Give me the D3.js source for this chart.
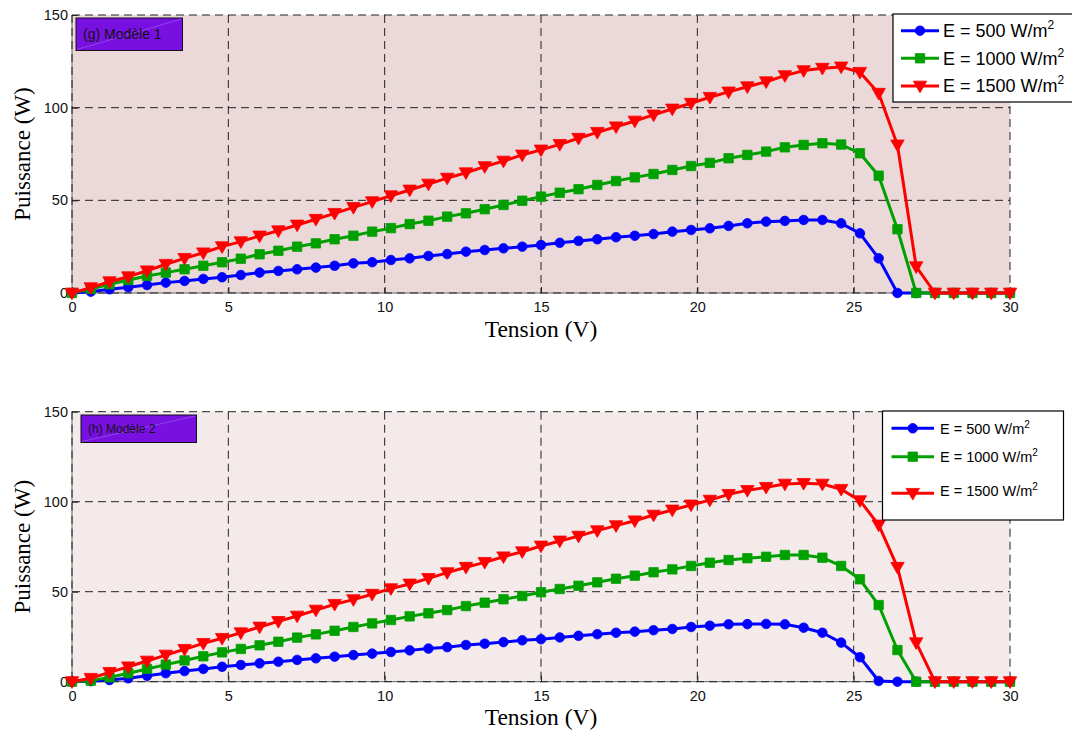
<!DOCTYPE html>
<html>
<head>
<meta charset="utf-8">
<script src="https://cdn.jsdelivr.net/npm/d3@7"></script>
<style>
  html, body { margin: 0; padding: 0; background: #ffffff; }
  svg { display: block; }
</style>
</head>
<body>
<svg id="chart" width="1072" height="733"></svg>
<script>
// Tension (V) sampling of the P-V curves
const tension = [0, 0.6, 1.2, 1.8, 2.4, 3.0, 3.6, 4.2, 4.8, 5.4, 6.0, 6.6, 7.2, 7.8, 8.4, 9.0, 9.6,
  10.2, 10.8, 11.4, 12.0, 12.6, 13.2, 13.8, 14.4, 15.0, 15.6, 16.2, 16.8, 17.4, 18.0, 18.6, 19.2,
  19.8, 20.4, 21.0, 21.6, 22.2, 22.8, 23.4, 24.0, 24.6, 25.2, 25.8, 26.4, 27.0, 27.6, 28.2, 28.8,
  29.4, 30.0];

// Modèle 1 — puissance (W)
const model1_500 = [0, 0.7, 2.0, 3.1, 4.3, 5.6, 6.5, 7.6, 8.5, 9.7, 11.0, 11.9, 12.8, 13.7, 14.7,
  16.0, 16.6, 17.8, 18.7, 20.0, 21.0, 22.3, 23.2, 24.1, 25.0, 25.9, 27.1, 28.1, 29.0, 30.1, 30.9,
  31.8, 33.1, 34.0, 34.9, 36.2, 37.6, 38.5, 38.9, 39.4, 39.4, 37.6, 32.2, 18.7, 0, 0, 0, 0, 0, 0, 0];
const model1_1000 = [0, 2.2, 4.7, 7.0, 9.2, 11.0, 12.8, 14.7, 16.6, 18.5, 20.9, 22.8, 25.0, 26.8,
  29.0, 30.9, 33.1, 35.0, 37.2, 39.0, 41.2, 43.0, 45.2, 47.5, 49.8, 52.0, 54.1, 56.0, 58.3, 60.4,
  62.4, 64.2, 66.4, 68.5, 70.2, 72.7, 74.5, 76.3, 78.6, 79.9, 80.8, 80.1, 75.4, 63.3, 34.4, 0, 0, 0,
  0, 0, 0];
const model1_1500 = [0, 2.9, 6.1, 8.8, 12.0, 15.5, 18.7, 21.7, 25.0, 27.7, 30.8, 33.6, 36.7, 39.8,
  43.0, 46.2, 49.3, 52.5, 55.6, 58.8, 62.0, 64.9, 68.2, 71.2, 74.5, 77.2, 80.2, 83.5, 86.7, 89.7,
  92.8, 96.1, 99.3, 102.4, 105.6, 108.5, 111.3, 114.0, 117.3, 120.0, 121.3, 122.0, 119.1, 107.8,
  79.9, 14.2, 0, 0, 0, 0, 0];

// Modèle 2 — puissance (W)
const model2_500 = [0, 0.3, 0.9, 1.9, 3.3, 4.7, 5.9, 7.1, 8.3, 9.3, 10.2, 11.1, 12.1, 13.0, 13.9,
  14.8, 15.6, 16.5, 17.4, 18.4, 19.2, 20.4, 21.1, 22.0, 23.0, 23.6, 24.6, 25.5, 26.4, 27.2, 27.8,
  28.6, 29.3, 30.4, 31.1, 31.9, 32.0, 32.1, 31.9, 30.0, 27.2, 21.7, 13.6, 0.4, 0, 0, 0, 0, 0, 0, 0];
const model2_1000 = [0, 0.6, 2.4, 4.7, 7.1, 9.5, 11.8, 14.1, 16.3, 18.2, 20.2, 22.2, 24.5, 26.3,
  28.3, 30.4, 32.4, 34.3, 36.3, 38.0, 39.8, 42.0, 43.9, 45.8, 47.6, 49.7, 51.5, 53.3, 55.2, 57.2,
  58.9, 60.8, 62.4, 64.3, 66.1, 67.6, 68.6, 69.4, 70.4, 70.4, 68.9, 64.3, 56.9, 42.6, 17.6, 0, 0,
  0, 0, 0, 0];
const model2_1500 = [0, 1.9, 5.2, 8.3, 11.5, 14.8, 18.0, 21.3, 24.1, 27.2, 30.4, 33.5, 36.5, 39.8,
  43.0, 45.6, 48.6, 51.7, 54.3, 57.4, 60.6, 63.6, 66.3, 69.4, 72.2, 75.4, 78.2, 80.9, 83.9, 86.7,
  89.4, 92.6, 95.4, 98.2, 100.9, 104.1, 106.3, 108.0, 109.8, 110.2, 109.8, 106.9, 100.6, 87.1,
  63.6, 21.7, 0, 0, 0, 0, 0];

// Axis ticks and labels
const xTicks = [0, 5, 10, 15, 20, 25, 30];
const yTicks = [0, 50, 100, 150];
const irradiance = ["500", "1000", "1500"];
const panelTitles = ["(g) Modèle 1", "(h) Modèle 2"];
const xTitle = "Tension (V)";
const yTitle = "Puissance (W)";

// Per-series styles
const seriesStyle = [
  { color: "#0000ff", symbol: d3.symbolCircle, size: 72, rotate: 0 },
  { color: "#00a000", symbol: d3.symbolSquare, size: 88, rotate: 0 },
  { color: "#ff0000", symbol: d3.symbolTriangle, size: 78, rotate: 180 }
];

const svg = d3.select("#chart");
const sans = "'Liberation Sans', Arial, Helvetica, sans-serif";
const serif = "'Liberation Serif', 'Times New Roman', serif";

const panels = [
  {
    series: [model1_500, model1_1000, model1_1500],
    top: 15, bottom: 293, bg: "rgb(235,216,216)",
    title: panelTitles[0],
    titleBox: { x: 76, y: 18, w: 106.5, h: 32.5, fs: 14 },
    legend: { x: 893, y: 14, w: 182, h: 88, rows: [30.7, 58.3, 86], fs: 18, lineX0: 901, lineX1: 939, textX: 943, supFs: 12, supDy: -8 },
    xTitleY: 337
  },
  {
    series: [model2_500, model2_1000, model2_1500],
    top: 411.7, bottom: 681.7, bg: "rgb(244,234,234)",
    title: panelTitles[1],
    titleBox: { x: 81, y: 415, w: 115.5, h: 27.5, fs: 12 },
    legend: { x: 882.5, y: 411, w: 181, h: 109, rows: [428.3, 456.7, 493.3], fs: 14.5, lineX0: 891.5, lineX1: 934, textX: 940, supFs: 10, supDy: -6, textShift: [0, 0, -3] },
    xTitleY: 725
  }
];

const left = 72, right = 1010;
const x = d3.scaleLinear().domain([0, 30]).range([left, right]);

panels.forEach(p => {
  const y = d3.scaleLinear().domain([0, 150]).range([p.bottom, p.top]);
  const g = svg.append("g");

  // plot background
  g.append("rect")
    .attr("x", left).attr("y", p.top)
    .attr("width", right - left).attr("height", p.bottom - p.top)
    .attr("fill", p.bg);

  // solid left / bottom axis lines
  g.append("line").attr("x1", left).attr("x2", left).attr("y1", p.top).attr("y2", p.bottom)
    .attr("stroke", "#666").attr("stroke-width", 1);
  g.append("line").attr("x1", left).attr("x2", right).attr("y1", p.bottom).attr("y2", p.bottom)
    .attr("stroke", "#666").attr("stroke-width", 1);

  // dashed grid
  g.append("g").selectAll("line").data(xTicks).join("line")
    .attr("x1", d => x(d)).attr("x2", d => x(d))
    .attr("y1", p.top).attr("y2", p.bottom)
    .attr("stroke", "#222").attr("stroke-width", 1).attr("stroke-dasharray", "8,5");
  g.append("g").selectAll("line").data(yTicks).join("line")
    .attr("x1", left).attr("x2", right)
    .attr("y1", d => y(d)).attr("y2", d => y(d))
    .attr("stroke", "#222").attr("stroke-width", 1).attr("stroke-dasharray", "8,5");

  // axes via d3 (inward ticks, no domain path)
  const xAxis = d3.axisBottom(x).tickValues(xTicks).tickSizeInner(-6).tickSizeOuter(0).tickPadding(9);
  const yAxis = d3.axisLeft(y).tickValues(yTicks).tickSizeInner(-6).tickSizeOuter(0).tickPadding(10);
  const gx = g.append("g").attr("transform", `translate(0,${p.bottom})`).call(xAxis);
  const gy = g.append("g").attr("transform", `translate(${left},0)`).call(yAxis);
  [gx, gy].forEach(a => {
    a.select(".domain").remove();
    a.selectAll(".tick line").attr("stroke", "#222");
    a.selectAll(".tick text").attr("fill", "#111").style("font-family", sans).style("font-size", "14.5px");
  });
  gy.selectAll(".tick text").attr("x", -4);

  // series lines + markers
  p.series.forEach((vals, si) => {
    const st = seriesStyle[si];
    const pts = tension.map((t, i) => [t, vals[i]]);
    g.append("path")
      .datum(pts)
      .attr("fill", "none")
      .attr("stroke", st.color)
      .attr("stroke-width", 3)
      .attr("stroke-linejoin", "round")
      .attr("d", d3.line().x(d => x(d[0])).y(d => y(d[1])));
    const sym = d3.symbol().type(st.symbol).size(st.size);
    g.append("g").selectAll("path").data(pts).join("path")
      .attr("d", sym)
      .attr("transform", d => `translate(${x(d[0])},${y(d[1]) + (st.rotate ? -1 : 0)}) rotate(${st.rotate})`)
      .attr("fill", st.color)
      .attr("stroke", st.color)
      .attr("stroke-width", 0.8);
  });

  // panel title box
  const tb = p.titleBox;
  g.append("rect").attr("x", tb.x).attr("y", tb.y).attr("width", tb.w).attr("height", tb.h)
    .attr("fill", "rgb(121,16,226)").attr("stroke", "#111").attr("stroke-width", 1);
  g.append("line").attr("x1", tb.x + 1).attr("y1", tb.y + tb.h - 1)
    .attr("x2", tb.x + tb.w - 1).attr("y2", tb.y + 1)
    .attr("stroke", "#b58cf2").attr("stroke-width", 0.6).attr("opacity", 0.7);
  g.append("text").attr("x", tb.x + 7).attr("y", tb.y + tb.h / 2 + tb.fs * 0.36)
    .style("font-family", sans).style("font-size", tb.fs + "px").attr("fill", "#111")
    .text(p.title);

  // axis titles
  g.append("text")
    .attr("transform", `translate(30,${(p.top + p.bottom) / 2}) rotate(-90)`)
    .attr("text-anchor", "middle")
    .style("font-family", serif).style("font-size", "23px").attr("fill", "#000")
    .text(yTitle);
  g.append("text")
    .attr("x", (left + right) / 2).attr("y", p.xTitleY)
    .attr("text-anchor", "middle")
    .style("font-family", serif).style("font-size", "23.5px").attr("fill", "#000")
    .text(xTitle);

  // legend
  const L = p.legend;
  const lg = g.append("g");
  lg.append("rect").attr("x", L.x).attr("y", L.y).attr("width", L.w).attr("height", L.h)
    .attr("fill", "#ffffff").attr("stroke", "#000").attr("stroke-width", 1.2);
  irradiance.forEach((e, i) => {
    const st = seriesStyle[i];
    const ry = L.rows[i];
    lg.append("line").attr("x1", L.lineX0).attr("x2", L.lineX1).attr("y1", ry).attr("y2", ry)
      .attr("stroke", st.color).attr("stroke-width", 3);
    lg.append("path")
      .attr("d", d3.symbol().type(st.symbol).size(st.size)())
      .attr("transform", `translate(${(L.lineX0 + L.lineX1) / 2},${ry + (st.rotate ? -1 : 0)}) rotate(${st.rotate})`)
      .attr("fill", st.color).attr("stroke", st.color).attr("stroke-width", 0.8);
    const shift = L.textShift ? L.textShift[i] : 0;
    const t = lg.append("text").attr("x", L.textX).attr("y", ry + L.fs * 0.36 + shift)
      .style("font-family", sans).style("font-size", L.fs + "px").attr("fill", "#000");
    t.append("tspan").text(`E = ${e} W/m`);
    t.append("tspan").attr("dy", L.supDy).style("font-size", L.supFs + "px").text("2");
  });
});
</script>
</body>
</html>
